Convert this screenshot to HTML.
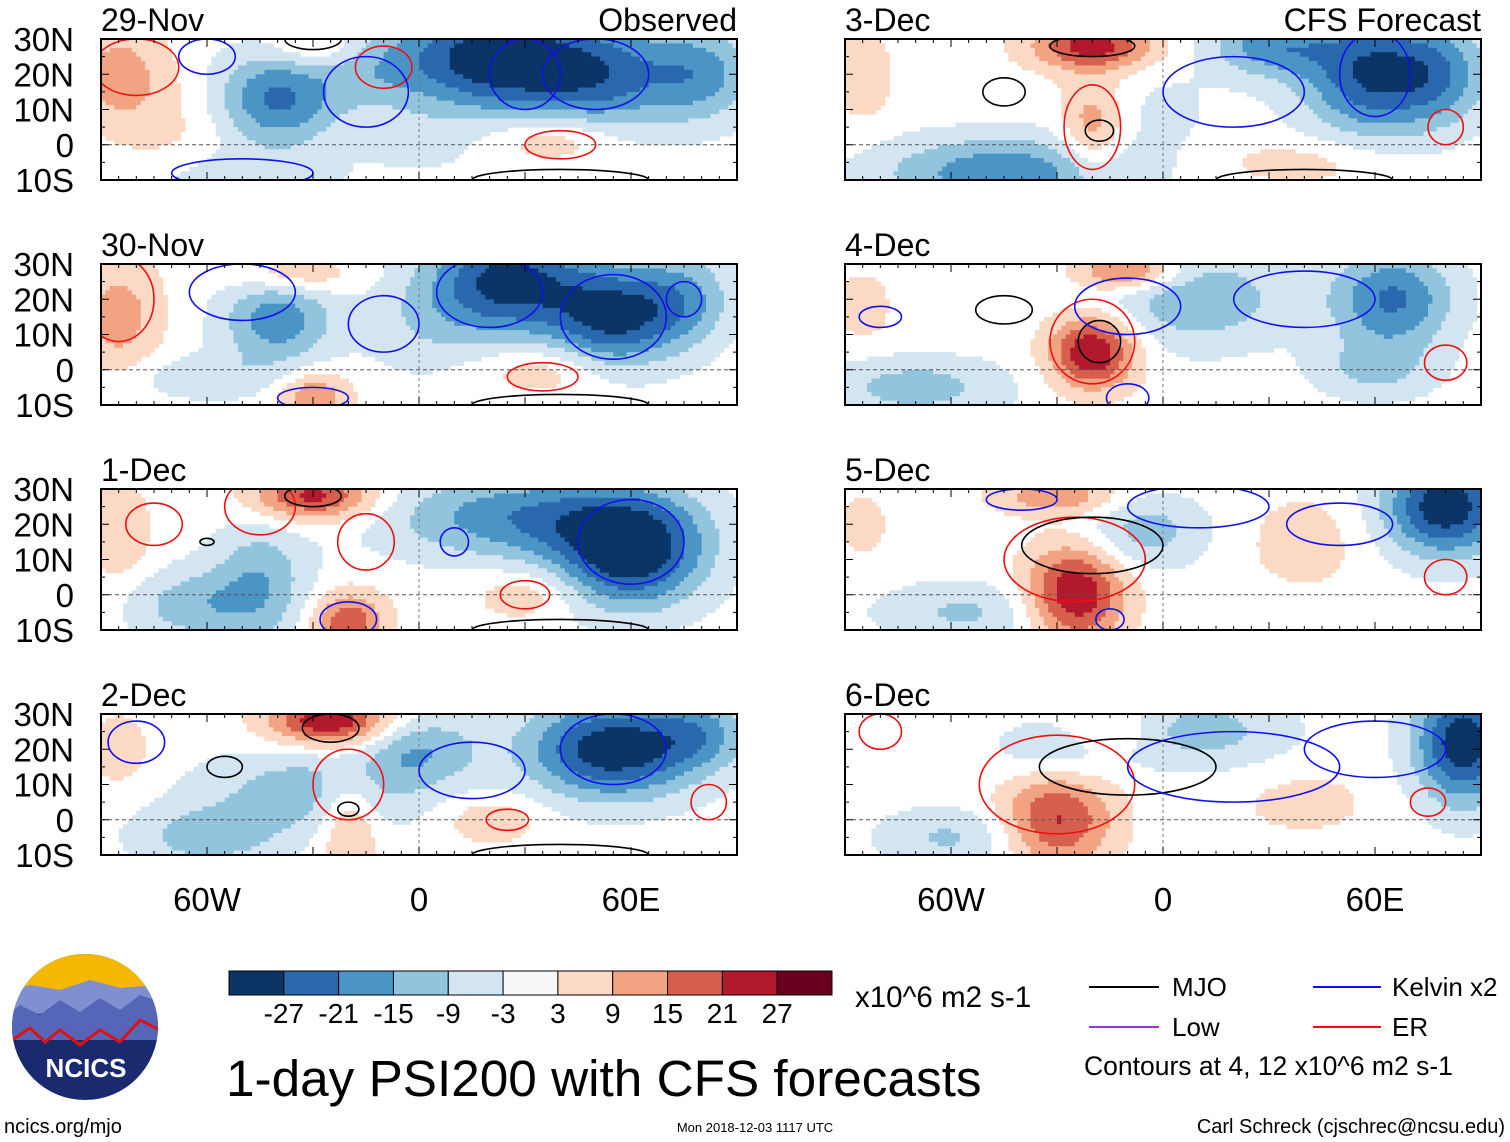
<!DOCTYPE html>
<html><head><meta charset="utf-8"><style>
body{margin:0;background:#fff;}
svg{display:block;font-family:"Liberation Sans",sans-serif;}
</style></head><body>
<svg id="fig" width="1510" height="1142" viewBox="0 0 1510 1142"></svg>
<script>
// ---- data ----
const panelTitles = ["29-Nov","30-Nov","1-Dec","2-Dec","3-Dec","4-Dec","5-Dec","6-Dec"];
const levels = [-27,-21,-15,-9,-3,3,9,15,21,27];
const levelColors = ["#0a3566","#2a68ad","#4a94c6","#93c4de","#d2e5f0","#f7f7f7","#fcd9c5","#f2a482","#d6604d","#b3192c","#690020"];
const cbarLabels = ["-27","-21","-15","-9","-3","3","9","15","21","27"];
// blobs: [lon, lat, amplitude, sigmaLon, sigmaLat]
const blobs = [
 [[-85,20,12,8,8],[-40,13,-22,10,8],[-10,22,-11,10,7],[20,25,-30,13,9],[50,20,-24,13,9],[80,20,-16,9,8],[38,2,10,10,4],[-30,27,8,8,3],[-50,-9,-7,15,4],[-70,5,4,10,8],[0,0,-4,10,6]],
 [[-85,15,12,7,10],[-40,14,-19,9,7],[25,25,-30,13,9],[55,15,-27,10,8],[75,20,-15,8,8],[-30,-7,15,6,4],[35,0,8,10,4],[-35,27,10,9,3],[-60,-2,-7,15,4],[0,12,-6,10,8]],
 [[-30,28,24,10,4],[-20,-8,20,6,5],[60,12,-32,12,9],[30,22,-20,22,7],[-45,3,-14,8,10],[-65,-3,-12,10,6],[-85,18,9,5,8],[30,0,8,8,4]],
 [[-25,28,28,10,4],[-20,0,13,5,8],[55,20,-32,14,8],[-30,8,-13,18,7],[0,20,-14,10,6],[20,0,8,8,4],[-85,20,7,5,6],[-60,-5,-12,12,5],[80,25,-12,8,6]],
 [[-20,28,24,10,4],[-20,5,13,5,8],[60,20,-28,12,10],[-45,-8,-20,20,6],[30,28,-17,10,5],[80,20,-12,8,8],[-85,20,7,5,8],[40,-5,6,15,4],[0,10,-4,10,8]],
 [[-20,5,28,7,6],[-10,28,20,8,3],[65,20,-22,10,8],[10,20,-14,15,8],[-70,-5,-12,15,5],[60,0,-10,10,5],[-85,18,6,5,6]],
 [[-25,0,28,8,8],[-30,28,14,10,3],[80,25,-32,10,8],[-5,18,-12,10,6],[-55,-5,-10,15,5],[40,15,6,10,8],[-85,20,5,5,6]],
 [[-30,0,22,9,8],[-15,25,9,8,4],[85,22,-32,8,10],[-30,20,-9,10,5],[10,25,-12,15,6],[-60,-5,-10,12,5],[40,5,5,12,6]]
];
// contours: [lon, lat, rLon, rLat, kind] kind: m=MJO, k=Kelvin, e=ER
const contours = [
 [[-80,22,12,8,"e"],[-60,25,8,5,"k"],[-10,22,8,6,"e"],[-15,15,12,10,"k"],[30,20,10,10,"k"],[50,20,15,10,"k"],[40,0,10,4,"e"],[-30,30,8,3,"m"],[-50,-8,20,4,"k"],[40,-10,25,3,"m"]],
 [[-85,20,10,12,"e"],[-50,22,15,8,"k"],[-10,13,10,8,"k"],[20,22,15,10,"k"],[55,15,15,12,"k"],[75,20,5,5,"k"],[35,-2,10,4,"e"],[-30,-8,10,3,"k"],[40,-10,25,3,"m"]],
 [[-75,20,8,6,"e"],[-45,25,10,8,"e"],[-30,28,8,3,"m"],[-60,15,2,1,"m"],[-15,15,8,8,"e"],[10,15,4,4,"k"],[60,15,15,12,"k"],[30,0,7,4,"e"],[-20,-7,8,5,"k"],[40,-10,25,3,"m"]],
 [[-80,22,8,6,"k"],[-55,15,5,3,"m"],[-20,10,10,10,"e"],[-20,3,3,2,"m"],[-25,26,8,4,"m"],[15,14,15,8,"k"],[55,20,15,10,"k"],[25,0,6,3,"e"],[82,5,5,5,"e"],[40,-10,25,3,"m"]],
 [[-45,15,6,4,"m"],[-20,5,8,12,"e"],[-18,4,4,3,"m"],[-20,28,12,3,"m"],[20,15,20,10,"k"],[60,20,10,12,"k"],[80,5,5,5,"e"],[40,-10,25,3,"m"]],
 [[-45,17,8,4,"m"],[-20,8,12,12,"e"],[-18,8,6,6,"m"],[-10,18,15,8,"k"],[40,20,20,8,"k"],[-80,15,6,3,"k"],[80,2,6,5,"e"],[-10,-8,6,4,"k"]],
 [[-25,10,20,12,"e"],[-20,14,20,8,"m"],[10,25,20,6,"k"],[50,20,15,6,"k"],[80,5,6,5,"e"],[-15,-7,4,3,"k"],[-40,27,10,3,"k"]],
 [[-30,10,22,14,"e"],[-10,15,25,8,"m"],[20,15,30,10,"k"],[60,20,20,8,"k"],[75,5,5,4,"e"],[-80,25,6,5,"e"]]
];
const xTicks = [-60,0,60];
const xTickLabels = ["60W","0","60E"];
const yTicks = [30,20,10,0,-10];
const yTickLabels = ["30N","20N","10N","0","10S"];

// ---- drawing ----
const NS="http://www.w3.org/2000/svg";
const svg=document.getElementById("fig");
function el(tag,attrs,parent){const e=document.createElementNS(NS,tag);for(const k in attrs)e.setAttribute(k,attrs[k]);(parent||svg).appendChild(e);return e;}
function txt(s,attrs,parent){const e=el("text",attrs,parent);e.textContent=s;return e;}
const PW=636,PH=141;
const colX=[101,845], rowY=[39,264,489,714];
const contourColor={m:"#000",k:"#1010ee",e:"#ee1010"};
const spread=1.22;
function colorFor(v){let i=0;while(i<levels.length&&v>=levels[i])i++;return levelColors[i];}

for(let p=0;p<8;p++){
  const x0=colX[p<4?0:1], y0=rowY[p%4];
  const xs=lon=>x0+(lon+90)/180*PW;
  const ys=lat=>y0+(30-lat)/40*PH;
  const g=el("g",{});
  
  
  const clipId="c"+p;
  const cp=el("clipPath",{id:clipId},g);el("rect",{x:x0,y:y0,width:PW,height:PH},cp);
  const field=el("g",{"clip-path":"url(#"+clipId+")"},g);
  
  
  const step=1.25;
  for(let lon=-90;lon<90;lon+=step){
    for(let lat=30;lat>-10;lat-=step){
      const cl=lon+step/2, ct=lat-step/2;
      let v=0;
      for(const b of blobs[p]){const dx=(cl-b[0])/(b[3]*spread),dy=(ct-b[1])/(b[4]*spread);v+=b[2]*Math.exp(-(dx*dx+dy*dy)/2);}
      const c=colorFor(v);
      if(c==="#f7f7f7")continue;
      const r=el("rect",{x:xs(lon).toFixed(1),y:ys(lat).toFixed(1),width:(step/180*PW+0.6).toFixed(2),height:(step/40*PH+0.6).toFixed(2),fill:c},field);
      
      
    }
  }
  const eq=el("line",{x1:x0,x2:x0+PW,y1:ys(0),y2:ys(0),stroke:"#555","stroke-dasharray":"4,3","stroke-width":1},g);
  
  
  el("line",{x1:xs(0),x2:xs(0),y1:y0,y2:y0+PH,stroke:"#777","stroke-dasharray":"3,3","stroke-width":1},g);
  for(const c of contours[p]){
    const e=el("ellipse",{cx:xs(c[0]),cy:ys(c[1]),rx:c[2]/180*PW,ry:c[3]/40*PH,fill:"none",stroke:contourColor[c[4]],"stroke-width":1.6,"clip-path":"url(#"+clipId+")"},g);
    
    
  }
  const fr=el("rect",{x:x0,y:y0,width:PW,height:PH,fill:"none",stroke:"#000","stroke-width":2},g);
  
  
  for(let lon=-90;lon<=90;lon+=5){const L=(lon%30===0)?8:4;
    el("line",{x1:xs(lon),x2:xs(lon),y1:y0,y2:y0+L,stroke:"#000","stroke-width":1},g);
    el("line",{x1:xs(lon),x2:xs(lon),y1:y0+PH,y2:y0+PH-L,stroke:"#000","stroke-width":1},g);}
  for(let lat=-10;lat<=30;lat+=5){const L=(lat%10===0)?8:4;
    el("line",{x1:x0,x2:x0+L,y1:ys(lat),y2:ys(lat),stroke:"#000","stroke-width":1},g);
    el("line",{x1:x0+PW,x2:x0+PW-L,y1:ys(lat),y2:ys(lat),stroke:"#000","stroke-width":1},g);}
  const t=txt(panelTitles[p],{x:x0,y:y0-8,"font-size":32},g);
  
  
  if(p===0){const o=txt("Observed",{x:x0+PW,y:y0-8,"font-size":32,"text-anchor":"end"},g);
    }
  if(p===4){const o=txt("CFS Forecast",{x:x0+PW,y:y0-8,"font-size":32,"text-anchor":"end"},g);
    }
  if(p<4){for(let i=0;i<yTicks.length;i++){
    const yl=txt(yTickLabels[i],{x:74,y:ys(yTicks[i])+12,"font-size":33,"text-anchor":"end"},g);
    }}
  if(p%4===3){for(let i=0;i<xTicks.length;i++){
    const xl=txt(xTickLabels[i],{x:xs(xTicks[i]),y:911,"font-size":33,"text-anchor":"middle"},g);
    }}
}
const cb=el("g",{});


const cbx=229,cbw=603/levelColors.length;
levelColors.forEach((c,i)=>{const r=el("rect",{x:cbx+i*cbw,y:971,width:cbw,height:24,fill:c,stroke:"#000","stroke-width":1},cb);
  });
cbarLabels.forEach((s,i)=>{const t=txt(s,{x:cbx+(i+1)*cbw,y:1023,"font-size":28,"text-anchor":"middle"},cb);
  });
</script>
<div style="position:absolute;left:0;top:0;width:1510px;height:1142px;pointer-events:none">
<svg width="1510" height="1142" style="position:absolute;left:0;top:0;font-family:'Liberation Sans',sans-serif">
 <text x="855" y="1007" font-size="29.5">x10^6 m2 s-1</text>
 <text x="226" y="1096" font-size="51.3">1-day PSI200 with CFS forecasts</text>
 <g>
  <line x1="1089" y1="987" x2="1159" y2="987" stroke="#000" stroke-width="2"/>
  <text x="1172" y="996" font-size="26">MJO</text>
  <line x1="1089" y1="1027" x2="1159" y2="1027" stroke="#9933dd" stroke-width="2"/>
  <text x="1172" y="1036" font-size="26">Low</text>
  <line x1="1313" y1="987" x2="1381" y2="987" stroke="#1010ee" stroke-width="2"/>
  <text x="1392" y="996" font-size="26">Kelvin x2</text>
  <line x1="1313" y1="1027" x2="1381" y2="1027" stroke="#ee1010" stroke-width="2"/>
  <text x="1392" y="1036" font-size="26">ER</text>
  <text x="1084" y="1075" font-size="26.5">Contours at 4, 12 x10^6 m2 s-1</text>
 </g>
 <g>
  <clipPath id="lc"><circle cx="85" cy="1027" r="73"/></clipPath>
  <g clip-path="url(#lc)">
   <rect x="0" y="950" width="170" height="160" fill="#1a2a6e"/>
   <rect x="0" y="950" width="170" height="40" fill="#f5b800"/>
   <path d="M0 995 L30 985 L60 990 L90 980 L120 988 L170 984 L170 1010 L0 1015Z" fill="#7f8fd0"/>
   <path d="M0 1020 L20 1005 L40 1015 L60 1000 L80 1012 L100 998 L120 1010 L140 995 L170 1005 L170 1040 L0 1040Z" fill="#5566b8"/>
   <polyline points="12,1040 30,1028 45,1042 60,1030 80,1045 100,1030 120,1042 140,1020 160,1030" fill="none" stroke="#dd1111" stroke-width="3"/>
  </g>
  <text x="86" y="1077" font-size="26" font-weight="bold" fill="#fff" text-anchor="middle">NCICS</text>
 </g>
 <text x="4" y="1133" font-size="20">ncics.org/mjo</text>
 <text x="755" y="1132" font-size="13" text-anchor="middle">Mon 2018-12-03 1117 UTC</text>
 <text x="1505" y="1133" font-size="20" text-anchor="end">Carl Schreck (cjschrec@ncsu.edu)</text>
</svg>
</div>
</body></html>
